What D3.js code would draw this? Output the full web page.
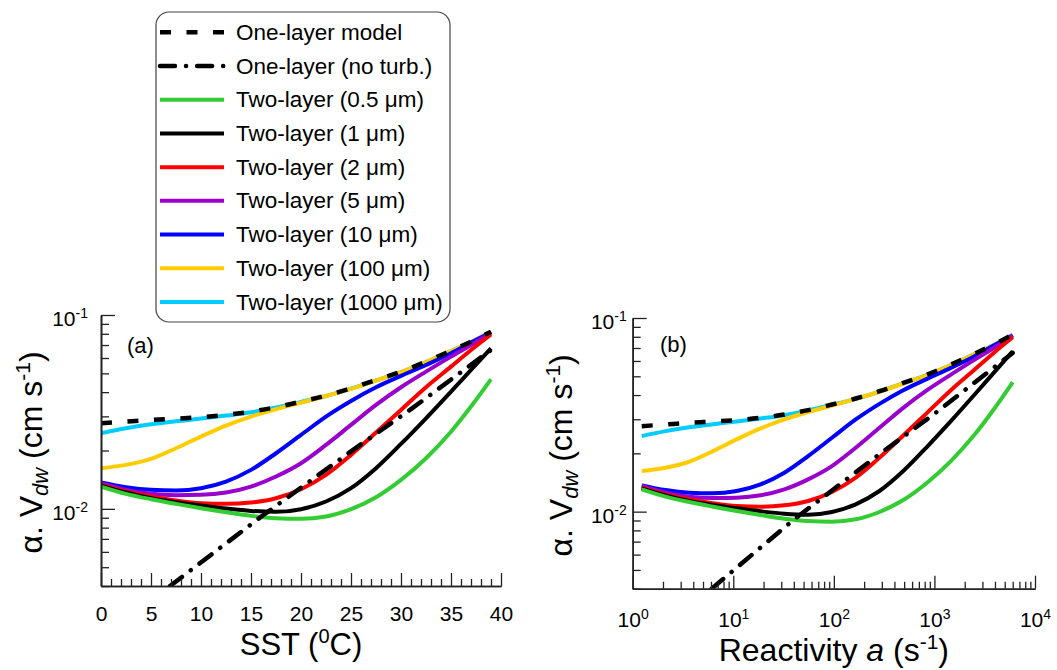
<!DOCTYPE html>
<html>
<head>
<meta charset="utf-8">
<script src="https://cdn.jsdelivr.net/npm/d3@7"></script>
<style>
  body { margin: 0; background: #fff; }
  svg { display: block; }
  text { font-family: "Liberation Sans", Arial, sans-serif; fill: #000; }
</style>
</head>
<body>
<svg id="chart" width="1057" height="670"></svg>
<script>
// Sample positions shared by all modelled curves
const sst = [0, 2.5, 5, 7.5, 10, 12.5, 15, 17.5, 20, 22.5, 25, 27.5, 30, 32.5, 35, 37, 39];
const reactivity = [1.23, 2.12, 3.65, 6.29, 10.8, 18.7, 32.2, 55.5, 95.7, 165, 284, 490, 845, 1457, 2512, 3882, 6000];

// Deposition velocity alpha.Vdw (cm s-1)
const oneLayer     = [0.02764, 0.02819, 0.02876, 0.02921, 0.02968, 0.03051, 0.03174, 0.03343, 0.03574, 0.03839, 0.04188, 0.04624, 0.05103, 0.05746, 0.06549, 0.07287, 0.08204];
const twoLayer0p5  = [0.01303, 0.01195, 0.01121, 0.01061, 0.01008, 0.00961, 0.00920, 0.00895, 0.00888, 0.00913, 0.00996, 0.01148, 0.01411, 0.01825, 0.02500, 0.03370, 0.04661];
const twoLayer1    = [0.01319, 0.01214, 0.01135, 0.01082, 0.01040, 0.01004, 0.00976, 0.00965, 0.00996, 0.01091, 0.01278, 0.01621, 0.02163, 0.02933, 0.04025, 0.05206, 0.06731];
const twoLayer2    = [0.01329, 0.01228, 0.01158, 0.01104, 0.01069, 0.01061, 0.01078, 0.01135, 0.01263, 0.01497, 0.01898, 0.02474, 0.03238, 0.04238, 0.05416, 0.06601, 0.07949];
const twoLayer5    = [0.01356, 0.01253, 0.01195, 0.01176, 0.01181, 0.01214, 0.01303, 0.01468, 0.01719, 0.02137, 0.02710, 0.03437, 0.04238, 0.05103, 0.06099, 0.07005, 0.08107];
const twoLayer10   = [0.01367, 0.01293, 0.01253, 0.01243, 0.01278, 0.01383, 0.01589, 0.01936, 0.02407, 0.02992, 0.03602, 0.04238, 0.04849, 0.05524, 0.06344, 0.07202, 0.08140];
const twoLayer100  = [0.01621, 0.01686, 0.01810, 0.02055, 0.02360, 0.02689, 0.02992, 0.03264, 0.03531, 0.03820, 0.04160, 0.04590, 0.05070, 0.05710, 0.06510, 0.07250, 0.08160];
const twoLayer1000 = [0.02455, 0.02604, 0.02731, 0.02830, 0.02921, 0.03027, 0.03149, 0.03330, 0.03560, 0.03820, 0.04170, 0.04600, 0.05080, 0.05720, 0.06520, 0.07260, 0.08180];

// One-layer model without turbulence (sampled separately)
const noTurbSST        = [6.9, 16, 25, 30.9, 39];
const noTurbReactivity = [6.1, 40, 284, 1030, 6000];
const noTurb           = [0.0040, 0.0091, 0.0198, 0.0324, 0.066];

// Axes
const yMajorTicks = [0.01, 0.1];
const yMajorExp = ["-2", "-1"];
const yMinorTicks = [0.004, 0.005, 0.006, 0.007, 0.008, 0.009, 0.02, 0.03, 0.04, 0.05, 0.06, 0.07, 0.08, 0.09];
const sstMajorTicks = [0, 5, 10, 15, 20, 25, 30, 35, 40];
const sstMinorTicks = [1, 2, 3, 4, 6, 7, 8, 9, 11, 12, 13, 14, 16, 17, 18, 19, 21, 22, 23, 24, 26, 27, 28, 29, 31, 32, 33, 34, 36, 37, 38, 39];
const reactivityMajorTicks = [1, 10, 100, 1000, 10000];
const reactivityMajorExp = ["0", "1", "2", "3", "4"];
const reactivityMinorTicks = [2, 3, 4, 5, 6, 7, 8, 9, 20, 30, 40, 50, 60, 70, 80, 90, 200, 300, 400, 500, 600, 700, 800, 900, 2000, 3000, 4000, 5000, 6000, 7000, 8000, 9000];

const legendLabels = ["One-layer model", "One-layer (no turb.)", "Two-layer (0.5 \u03bcm)", "Two-layer (1 \u03bcm)",
  "Two-layer (2 \u03bcm)", "Two-layer (5 \u03bcm)", "Two-layer (10 \u03bcm)", "Two-layer (100 \u03bcm)", "Two-layer (1000 \u03bcm)"];

// Line styles, in legend order
const styles = [
  { color: "#000000", width: 4.5, dash: "11,15.5", cap: "butt" },
  { color: "#000000", width: 4.5, dash: "15,11,0.1,11", cap: "round" },
  { color: "#33cc33", width: 4 },
  { color: "#000000", width: 4 },
  { color: "#ff0000", width: 4 },
  { color: "#9900cc", width: 4 },
  { color: "#0000ff", width: 4 },
  { color: "#ffcc00", width: 4 },
  { color: "#00ccff", width: 4 }
];

const series = [
  { y: oneLayer, style: styles[0] },
  { y: noTurb, style: styles[1], noTurb: true },
  { y: twoLayer0p5, style: styles[2] },
  { y: twoLayer1, style: styles[3] },
  { y: twoLayer2, style: styles[4] },
  { y: twoLayer5, style: styles[5] },
  { y: twoLayer10, style: styles[6] },
  { y: twoLayer100, style: styles[7] },
  { y: twoLayer1000, style: styles[8] }
];
// Paint order: large droplets first, then no-turbulence and one-layer lines on top
const drawOrder = [8, 7, 6, 5, 4, 3, 2, 1, 0];

const svg = d3.select("#chart");
svg.append("rect").attr("width", 1057).attr("height", 670).attr("fill", "#fff");

const panels = [
  {
    id: "a", label: "(a)",
    x: d3.scaleLinear().domain([0, 40]).range([101, 501]),
    y: d3.scaleLog().domain([0.004, 0.1]).range([586, 315]),
    xs: sst, noTurbXs: noTurbSST,
    xMajor: sstMajorTicks, xMinor: sstMinorTicks, xExp: null,
    yPad: 13, xPad: 20, labelPos: [127, 353],
    yTitleX: 42, xTitleY: 655
  },
  {
    id: "b", label: "(b)",
    x: d3.scaleLog().domain([1, 10000]).range([632.7, 1035]),
    y: d3.scaleLog().domain([0.004, 0.1]).range([588.7, 318]),
    xs: reactivity, noTurbXs: noTurbReactivity,
    xMajor: reactivityMajorTicks, xMinor: reactivityMinorTicks, xExp: reactivityMajorExp,
    yPad: 6, xPad: 23, labelPos: [660, 352],
    yTitleX: 572, xTitleY: 661
  }
];

function powerLabel(textSel, exp) {
  textSel.text("");
  textSel.append("tspan").text("10");
  textSel.append("tspan").attr("dy", "-8").attr("font-size", 14).text(exp);
}

panels.forEach(p => {
  const g = svg.append("g");
  const [x0, x1] = p.x.range();
  const [yb, yt] = p.y.range();

  g.append("clipPath").attr("id", "clip-" + p.id)
    .append("rect").attr("x", x0).attr("y", yt - 10).attr("width", x1 - x0 + 10).attr("height", yb - yt + 10);

  // Curves
  const plot = g.append("g").attr("clip-path", `url(#clip-${p.id})`);
  drawOrder.forEach(i => {
    const s = series[i];
    const xs = s.noTurb ? p.noTurbXs : p.xs;
    const pts = xs.map((xv, k) => [p.x(xv), p.y(s.y[k])]);
    const line = d3.line().curve(s.noTurb ? d3.curveLinear : d3.curveMonotoneX);
    plot.append("path")
      .attr("d", line(pts))
      .attr("fill", "none")
      .attr("stroke", s.style.color)
      .attr("stroke-width", s.style.width)
      .attr("stroke-linecap", s.style.cap || "butt")
      .attr("stroke-linejoin", "round")
      .attr("stroke-dasharray", s.style.dash || null);
  });

  // Y axis
  const yMinor = g.append("g").attr("transform", `translate(${x0},0)`)
    .call(d3.axisLeft(p.y).tickValues(yMinorTicks).tickSize(-8).tickSizeOuter(0).tickFormat(""));
  const yMajor = g.append("g").attr("transform", `translate(${x0},0)`)
    .call(d3.axisLeft(p.y).tickValues(yMajorTicks).tickSize(-14).tickSizeOuter(0).tickPadding(p.yPad));
  yMajor.selectAll(".tick text").attr("font-size", 21).attr("font-family", null).attr("dy", "0.5em")
    .each(function (d, i) { powerLabel(d3.select(this), yMajorExp[i]); });

  // X axis
  const xMinor = g.append("g").attr("transform", `translate(0,${yb})`)
    .call(d3.axisBottom(p.x).tickValues(p.xMinor).tickSize(-7).tickSizeOuter(0).tickFormat(""));
  const xMajor = g.append("g").attr("transform", `translate(0,${yb})`)
    .call(d3.axisBottom(p.x).tickValues(p.xMajor).tickSize(-13).tickSizeOuter(0).tickPadding(p.xPad)
      .tickFormat(p.xExp ? "" : d3.format("d")));
  xMajor.selectAll(".tick text").attr("font-size", 21).attr("font-family", null);
  if (p.xExp) {
    xMajor.selectAll(".tick text").each(function (d, i) { powerLabel(d3.select(this), p.xExp[i]); });
  }

  [yMinor, yMajor, xMinor, xMajor].forEach(ax => {
    ax.selectAll("path.domain").attr("stroke", "#222").attr("stroke-width", 1.6);
    ax.selectAll(".tick line").attr("stroke", "#222").attr("stroke-width", 1.3);
  });

  // Panel label
  g.append("text").attr("x", p.labelPos[0]).attr("y", p.labelPos[1]).attr("font-size", 22).text(p.label);

  // Y title: alpha.V_dw (cm s-1)
  const yt2 = g.append("text")
    .attr("transform", `translate(${p.yTitleX},${(yb + yt) / 2 + 2}) rotate(-90)`)
    .attr("text-anchor", "middle").attr("font-size", 32);
  yt2.append("tspan").text("\u03b1. V");
  yt2.append("tspan").attr("font-size", 22).attr("font-style", "italic").attr("dy", 6).text("dw");
  yt2.append("tspan").attr("dy", -6).text(" (cm s");
  yt2.append("tspan").attr("font-size", 21).attr("dy", -12).text("-1");
  yt2.append("tspan").attr("dy", 12).text(")");

  // X title
  const xt = g.append("text").attr("x", (x0 + x1) / 2).attr("y", p.xTitleY)
    .attr("text-anchor", "middle").attr("font-size", p.id === "a" ? 31 : 32);
  if (p.id === "a") {
    xt.append("tspan").text("SST (");
    xt.append("tspan").attr("font-size", 20).attr("dy", -12).text("0");
    xt.append("tspan").attr("dy", 12).text("C)");
  } else {
    xt.append("tspan").text("Reactivity ");
    xt.append("tspan").attr("font-style", "italic").text("a");
    xt.append("tspan").text(" (s");
    xt.append("tspan").attr("font-size", 21).attr("dy", -12).text("-1");
    xt.append("tspan").attr("dy", 12).text(")");
  }
});

// Legend
const legend = svg.append("g");
legend.append("rect").attr("x", 156).attr("y", 12).attr("width", 294).attr("height", 310)
  .attr("rx", 13).attr("ry", 13).attr("fill", "#fff").attr("stroke", "#444").attr("stroke-width", 1.2);
const rowY = d3.scaleLinear().domain([0, 8]).range([32.3, 302]);
legendLabels.forEach((lab, i) => {
  const st = styles[i];
  legend.append("line").attr("x1", 160).attr("x2", 224).attr("y1", rowY(i)).attr("y2", rowY(i))
    .attr("stroke", st.color).attr("stroke-width", st.width)
    .attr("stroke-linecap", st.cap || "butt")
    .attr("stroke-dasharray", st.dash || null);
  legend.append("text").attr("x", 236).attr("y", rowY(i) + 7.5).attr("font-size", 22.5).text(lab);
});
</script>
</body>
</html>
